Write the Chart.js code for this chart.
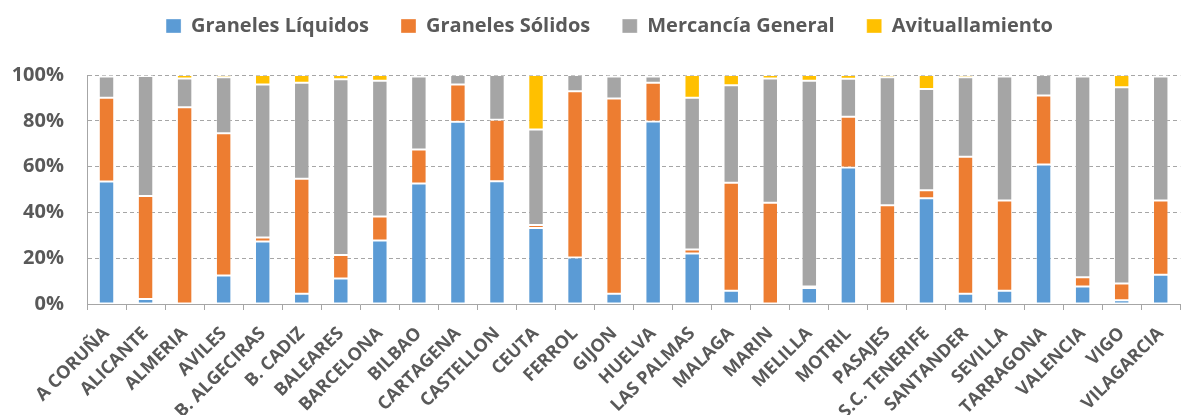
<!DOCTYPE html>
<html><head><meta charset="utf-8">
<script src="https://cdn.jsdelivr.net/npm/chart.js@4.4.1/dist/chart.umd.min.js"></script>
<style>html,body{margin:0;padding:0;background:#fff;overflow:hidden}
#wrap{width:1189px;height:415px;position:relative}</style>
</head><body><div id="wrap"><canvas id="c" width="1189" height="415"></canvas></div>
<script>
const categories = ["A CORUÑA","ALICANTE","ALMERIA","AVILES","B. ALGECIRAS","B. CADIZ","BALEARES","BARCELONA","BILBAO","CARTAGENA","CASTELLON","CEUTA","FERROL","GIJON","HUELVA","LAS PALMAS","MALAGA","MARIN","MELILLA","MOTRIL","PASAJES","S.C. TENERIFE","SANTANDER","SEVILLA","TARRAGONA","VALENCIA","VIGO","VILAGARCIA"];
const granelesLiquidos = [53.5,2.2,0,12.4,27.3,4.5,11.1,27.7,52.6,79.6,53.6,33.2,20.3,4.5,79.7,22.0,5.8,0,7.0,59.6,0,46.2,4.5,5.8,60.9,7.6,1.6,12.8];
const granelesSolidos  = [36.6,45.0,85.9,62.2,1.7,50.2,10.3,10.5,14.9,16.3,26.9,1.3,72.6,85.2,16.9,1.8,47.1,44.2,0.6,22.2,43.1,3.5,59.8,39.4,30.2,4.1,7.3,32.4];
const mercanciaGeneral = [9.2,52.4,12.6,24.4,66.9,41.9,76.7,59.3,31.8,4.1,19.5,41.7,7.1,9.6,2.7,66.3,42.6,54.3,89.9,16.6,55.9,44.2,34.7,54.1,8.9,87.6,85.7,54.1];
const avituallamiento  = [0.7,0.4,1.5,1.0,4.1,3.4,1.9,2.5,0.7,0,0,23.8,0,0.7,0.7,9.9,4.5,1.5,2.5,1.6,1.0,6.1,1.0,0.7,0,0.7,5.4,0.7];
const seriesNames = ["Graneles Líquidos","Graneles Sólidos","Mercancía General","Avituallamiento"];
const seriesColors = ["#5B9BD5","#ED7D31","#A5A5A5","#FFC000"];
const yTickStep = 20;

const FONT = "'Open Sans', 'DejaVu Sans', sans-serif";
const TXT = "#595959";
const GRID = "#a6a6a6";

const layoutTweak = {
  id: 'layoutTweak',
  beforeInit(chart) {
    const lg = chart.legend;
    const f = lg.fit.bind(lg);
    lg.fit = function () { f(); this.height = 75; };
  },
  afterLayout(chart) {
    const lg = chart.legend;
    lg.top = 16 - lg.options.labels.padding;
    lg.left += 15; lg.right += 15;
  }
};

const seriesData = [granelesLiquidos, granelesSolidos, mercanciaGeneral, avituallamiento];
new Chart(document.getElementById('c'), {
  type: 'bar',
  data: {
    labels: categories,
    datasets: seriesData.map((d, i) => ({
      label: seriesNames[i],
      data: d,
      backgroundColor: seriesColors[i],
      borderColor: 'rgba(255,255,255,0.35)',
      borderWidth: 1,
      borderSkipped: false,
      categoryPercentage: 1,
      barPercentage: 0.395
    }))
  },
  options: {
    responsive: false,
    animation: false,
    devicePixelRatio: 1,
    layout: { padding: 0 },
    plugins: {
      tooltip: { enabled: false },
      legend: {
        position: 'top',
        labels: {
          boxWidth: 15, boxHeight: 14, padding: 32,
          color: TXT,
          font: { family: FONT, size: 20, weight: 'bold' }
        }
      }
    },
    scales: {
      x: {
        stacked: true,
        grid: { display: true, drawOnChartArea: false, drawTicks: true, tickLength: 6, color: GRID, offset: true },
        border: { display: true, color: GRID },
        ticks: {
          autoSkip: false, minRotation: 45, maxRotation: 45, padding: 13,
          color: TXT, font: { family: FONT, size: 18, weight: 'bold' }
        },
        afterFit(s) { s.height = 111; }
      },
      y: {
        stacked: true, min: 0, max: 100,
        grid: { drawTicks: false, color: GRID },
        border: { display: true, color: GRID, dash: [4, 3] },
        ticks: {
          stepSize: yTickStep, padding: 23, color: TXT,
          font: { family: FONT, size: 20, weight: 'bold' },
          callback: v => v + '%'
        },
        afterFit(s) { s.width = 87; }
      }
    }
  },
  plugins: [layoutTweak]
});
</script>
</body></html>
